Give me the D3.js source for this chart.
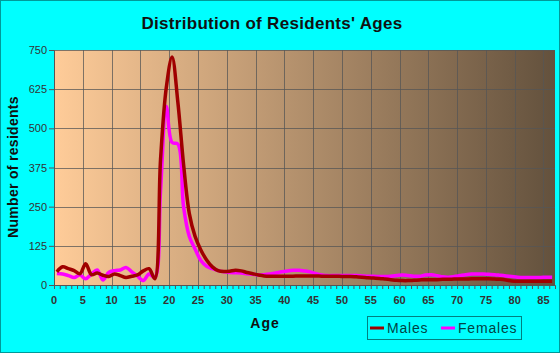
<!DOCTYPE html>
<html lang="en">
<head>
    <meta charset="UTF-8">
    <title>Distribution of Residents' Ages</title>
    <script src="https://d3js.org/d3.v7.min.js"></script>
    <style>
        body { margin: 0; background: #00ffff; }
        text { font-family: "Liberation Sans", Arial, sans-serif; }
    </style>
</head>
<body>
    <div id="chart"></div>

    <script>
        const width = 560, height = 353;

        // age of each one-year bin (plotted at the bin centre)
        const ages = [0, 1, 2, 3, 4, 5, 6, 7, 8, 9, 10, 11, 12, 13, 14, 15, 16, 17, 18, 19,
                      20, 21, 22, 23, 24, 25, 26, 27, 28, 29, 30, 31, 32, 33, 34, 35, 36, 37, 38, 39,
                      40, 41, 42, 43, 44, 45, 46, 47, 48, 49, 50, 51, 52, 53, 54, 55, 56, 57, 58, 59,
                      60, 61, 62, 63, 64, 65, 66, 67, 68, 69, 70, 71, 72, 73, 74, 75, 76, 77, 78, 79,
                      80, 81, 82, 83, 84, 85, 86];

        const males = [42, 58, 52, 46, 36, 68, 33, 38, 31, 27, 35, 30, 24, 28, 32, 45, 52, 20, 400, 630,
                       728, 585, 385, 228, 155, 112, 80, 58, 46, 43, 44, 47, 45, 40, 36, 32, 29, 28, 28, 28,
                       28, 28, 29, 29, 29, 29, 28, 28, 28, 28, 27, 27, 26, 25, 23, 22, 21, 19, 17, 15,
                       14, 14, 15, 16, 17, 17, 17, 18, 18, 19, 19, 19, 20, 20, 20, 20, 19, 18, 16, 13,
                       12, 12, 12, 12, 12, 12, 12];

        const females = [37, 35, 30, 24, 32, 20, 35, 48, 16, 40, 46, 48, 56, 42, 28, 14, 35, 24, 300, 570,
                         455, 450, 250, 155, 115, 78, 60, 52, 46, 42, 40, 39, 38, 36, 34, 32, 33, 35, 38, 42,
                         45, 47, 47, 45, 42, 36, 32, 30, 30, 30, 30, 30, 30, 29, 28, 28, 27, 27, 28, 30,
                         32, 30, 28, 28, 32, 33, 30, 26, 25, 27, 30, 33, 35, 35, 35, 34, 33, 31, 29, 27,
                         25, 24, 24, 24, 24, 25, 25];

        const yTicks = [0, 125, 250, 375, 500, 625, 750];
        const xTicks = [0, 5, 10, 15, 20, 25, 30, 35, 40, 45, 50, 55, 60, 65, 70, 75, 80, 85];

        const series = [
            { name: "Females", values: females, color: "#ff00ff" },
            { name: "Males", values: males, color: "#a00000" }
        ];

        const margin = { left: 54, right: 5, top: 50, bottom: 68 };
        const x = d3.scaleLinear().domain([0, 87]).range([margin.left, width - margin.right]);
        const y = d3.scaleLinear().domain([0, 750]).range([height - margin.bottom, margin.top]);

        const svg = d3.select("#chart")
                      .append("svg")
                      .attr("width", width)
                      .attr("height", height);

        // outer border
        svg.append("rect")
           .attr("x", 0.5).attr("y", 0.5)
           .attr("width", width - 1).attr("height", height - 1)
           .attr("fill", "#00ffff")
           .attr("stroke", "#009999");

        const defs = svg.append("defs");
        const grad = defs.append("linearGradient")
                         .attr("id", "bg")
                         .attr("x1", "0%").attr("x2", "100%")
                         .attr("y1", "0%").attr("y2", "0%");
        grad.append("stop").attr("offset", "0%").attr("stop-color", "#ffcc99");
        grad.append("stop").attr("offset", "100%").attr("stop-color", "#63513d");

        defs.append("clipPath").attr("id", "plotclip")
            .append("rect")
            .attr("x", x(0)).attr("y", y(750) - 4)
            .attr("width", x(87) - x(0)).attr("height", y(0) - y(750) + 4);

        svg.append("rect")
           .attr("x", x(0)).attr("y", y(750))
           .attr("width", x(87) - x(0)).attr("height", y(0) - y(750))
           .attr("fill", "url(#bg)");

        // grid
        svg.append("g")
           .selectAll("line")
           .data(xTicks.filter(d => d > 0))
           .join("line")
           .attr("x1", d => Math.round(x(d)) + 0.5).attr("x2", d => Math.round(x(d)) + 0.5)
           .attr("y1", y(750)).attr("y2", y(0))
           .attr("stroke", "#555")
           .attr("stroke-opacity", 0.75);

        svg.append("g")
           .selectAll("line")
           .data(yTicks.filter(d => d > 0))
           .join("line")
           .attr("x1", x(0)).attr("x2", x(87))
           .attr("y1", d => Math.round(y(d)) + 0.5).attr("y2", d => Math.round(y(d)) + 0.5)
           .attr("stroke", "#555")
           .attr("stroke-opacity", 0.75);

        // lines
        const line = d3.line()
                       .x((d, i) => x(ages[i] + 0.5))
                       .y(d => y(d))
                       .curve(d3.curveCatmullRom.alpha(0.5));

        svg.append("g")
           .attr("clip-path", "url(#plotclip)")
           .selectAll("path")
           .data(series)
           .join("path")
           .attr("d", d => line(d.values))
           .attr("fill", "none")
           .attr("stroke", d => d.color)
           .attr("stroke-width", 3.5)
           .attr("stroke-linejoin", "round");

        // y axis
        const yAxis = svg.append("g")
           .attr("transform", `translate(${x(0)},0)`)
           .call(d3.axisLeft(y).tickValues(yTicks).tickSize(5).tickPadding(2));
        yAxis.select(".domain").attr("stroke", "#555");
        yAxis.selectAll(".tick line").attr("stroke", "#555");
        yAxis.selectAll("text")
             .attr("font-size", 11)
             .attr("fill", "#333")
             .style("font-family", "'Liberation Sans', Arial, sans-serif");

        // x axis: one minor tick per year, labels every 5
        const xAxis = svg.append("g")
           .attr("transform", `translate(0,${y(0)})`)
           .call(d3.axisBottom(x).tickValues(ages).tickSize(4).tickFormat(""));
        xAxis.select(".domain").attr("stroke", "#555");
        xAxis.selectAll(".tick line").attr("stroke", "#555");

        svg.append("g")
           .selectAll("text")
           .data(xTicks)
           .join("text")
           .attr("x", d => x(d))
           .attr("y", y(0) + 19)
           .attr("text-anchor", "middle")
           .attr("font-size", 11)
           .attr("font-weight", "bold")
           .attr("fill", "#333")
           .text(d => d);

        // titles
        svg.append("text")
           .attr("x", 272).attr("y", 29)
           .attr("text-anchor", "middle")
           .attr("font-size", 17)
           .attr("font-weight", "bold")
           .attr("letter-spacing", 0.3)
           .attr("fill", "#111")
           .text("Distribution of Residents' Ages");

        svg.append("text")
           .attr("transform", "translate(18,167) rotate(-90)")
           .attr("text-anchor", "middle")
           .attr("font-size", 14)
           .attr("font-weight", "bold")
           .attr("letter-spacing", 0.3)
           .attr("fill", "#111")
           .text("Number of residents");

        svg.append("text")
           .attr("x", 265).attr("y", 328)
           .attr("text-anchor", "middle")
           .attr("font-size", 14)
           .attr("font-weight", "bold")
           .attr("letter-spacing", 1)
           .attr("fill", "#111")
           .text("Age");

        // legend
        const legend = svg.append("g");
        legend.append("rect")
              .attr("x", 367.5).attr("y", 316.5)
              .attr("width", 154).attr("height", 23)
              .attr("fill", "none")
              .attr("stroke", "#008080");

        const legendItems = [
            { name: "Males", color: "#a00000", x: 370 },
            { name: "Females", color: "#ff00ff", x: 441 }
        ];
        const li = legend.selectAll("g.item")
                         .data(legendItems)
                         .join("g")
                         .attr("class", "item")
                         .attr("transform", d => `translate(${d.x},328)`);
        li.append("line")
          .attr("x1", 0).attr("x2", 14)
          .attr("stroke", d => d.color)
          .attr("stroke-width", 3);
        li.append("text")
          .attr("x", 17).attr("y", 5)
          .attr("font-size", 14)
          .attr("letter-spacing", 0.8)
          .attr("fill", "#004444")
          .text(d => d.name);
    </script>
</body>
</html>
